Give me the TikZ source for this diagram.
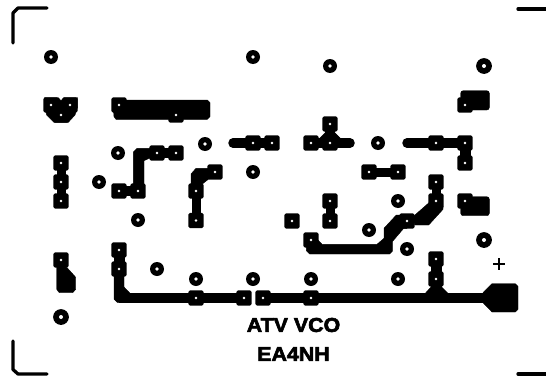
\documentclass[tikz,border=0pt]{standalone}
\usepackage{fontspec}
\setmainfont{Liberation Sans}[BoldFeatures={FakeBold=3,FakeStretch=1.07}]
\usetikzlibrary{backgrounds}
\tikzset{
  x=1pt,y=-1pt,
  spad/.style={rectangle,fill=black,inner sep=0pt,minimum size=15.2pt,rounded corners=1.6pt,
    path picture={\fill[white] (path picture bounding box.center) circle (1.4pt);}},
  rpad/.style={circle,fill=black,inner sep=0pt,minimum size=14pt,
    path picture={\fill[white] (path picture bounding box.center) circle (1.8pt);}},
  bigrpad/.style={circle,fill=black,inner sep=0pt,minimum size=15.8pt,
    path picture={\fill[white] (path picture bounding box.center) circle (2pt);}},
  trk/.style={draw=black,line width=#1,line join=miter},
  trk/.default=9pt,
  rtrk/.style={draw=black,line width=9.5pt,line cap=round},
  copper/.style={fill=black,draw=black,line width=0.4pt},
  frameline/.style={draw=black,line width=3.3pt,line cap=round,line join=round},
  caption/.style={font=\bfseries\fontsize{20}{20}\selectfont,inner sep=0pt,text=black}
}
\begin{document}
\begin{tikzpicture}
\useasboundingbox (0,0) rectangle (546,380);
% square pads
\foreach \n/\x/\y in {a1/61/163,a2/61/182,a3/61/201,a4/61/260,
  b1/51/105,b2/70/105,b3/61/115,c1/119/105,c2/176/115,
  d1/157/153,d2/176/153,d3/119/191,d4/138/191,
  e1/215/172,e2/196/191,e3/196/220.5,
  f1/253/143,f2/272/143,g1/311/143,g2/330/143,g3/330/124,
  h1/436/143,h2/465/143,h3/465/163,i1/369/172,i2/398/172,
  j1/436/182,j2/436/201,k1/465/105,k2/465/201,
  l1/330/201,l2/330/221,l3/292/221,l4/311/240,l5/407/221,
  m1/436/259,m2/436/279,m3/311/298,m4/119/250,m5/119/269,
  m6/196/298,m7/244/298,m8/263/298}
  {\node[spad] (\n) at (\x,\y) {};}
% round pads
\foreach \n/\x/\y in {r1/51/57,r2/253/57,r3/330/66,r4/205/144,r5/118/153,r6/99/182,
  r7/253/172,r8/378/143,r9/138/220,r10/398/201,r11/369/230,r12/407/249,
  r13/157/269,r14/196/279,r15/253/279,r16/311/279,r17/398/279}
  {\node[rpad] (\n) at (\x,\y) {};}
\foreach \n/\x/\y in {q1/484/66,q2/484/240,q3/61/317}
  {\node[bigrpad] (\n) at (\x,\y) {};}
% free ends of traces
\coordinate (ef) at (233,143);
\coordinate (eg) at (350,143);
\coordinate (eh) at (407,143);
\begin{scope}[on background layer]
  \fill[white] (0,0) rectangle (546,380);
  % straight links
  \draw[trk=9pt] (a1.center) -- (a3.center);
  \draw[trk=9pt] (l1.center) -- (l2.center);
  \draw[trk=9pt] (i1.center) -- (i2.center);
  \draw[trk=9pt] (j1.center) -- (j2.center);
  \draw[trk=9pt] (e2.center) -- (e3.center);
  \draw[trk=11pt] (m4.center) -- (m5.center);
  \draw[trk=11pt] (m1.center) -- (m3.center -| m1.center);
  \draw[trk=9.5pt] (d1.center) -- (d2.center);
  \draw[trk=9.5pt] (d3.center) -- (d4.center);
  \draw[trk=9.5pt] (f1.center) -- (f2.center);
  \draw[trk=9.5pt] (g1.center) -- (g2.center);
  \draw[trk=9.5pt] (g2.center) -- (g3.center);
  % rounded trace ends
  \draw[rtrk] (ef) -- (f1.center);
  \draw[rtrk] (g2.center) -- (eg);
  \draw[rtrk] (eh) -- (h2.center);
  \draw[trk=11pt] (h2.center) -- (h3.center);
  % bends
  \fill[copper] (133.3,185) -- (133.3,152) -- (137,148.3) -- (152,148.3) -- (152,157)
    -- (144,160.7) -- (144,185) -- cycle;
  \fill[copper] (191,190) -- (191,174) -- (196,168.3) -- (210,168.3) -- (210,178)
    -- (201,185) -- (200,190) -- cycle;
  % supply rail
  \draw[trk=9.5pt] (m7.center) -- (m5.center |- m7.center);
  \draw[trk=9.5pt] (m8.center) -- (486,298);
  \fill[copper] (114,276) -- (124,276) -- (124,287) -- (130,293.3) -- (130,302.3)
    -- (117.3,302.3) -- (114,299) -- cycle;
  \fill[copper] (483,292.7) -- (492,283.7) -- (515.3,283.7) -- (518,286.3) -- (518,309.3)
    -- (515.3,312) -- (492,312) -- (483,302.7) -- cycle;
  \fill[copper] (425.3,293.3) -- (431.3,286.7) -- (441.3,286.7) -- (448,293.3) -- cycle;
  % triangle at the top of the T junction
  \fill[copper] (330,128) -- (318,140) -- (342,140) -- cycle;
  % three-lobe pad group
  \fill[copper] (44.3,97.7) -- (58.3,97.7) -- (61,100.7) -- (63.7,97.7) -- (77.7,97.7)
    -- (77.7,106.7) -- (75,115) -- (68.3,122.3) -- (54,122.3) -- (46.7,115) -- (44.3,106.7) -- cycle;
  % large ground block
  \fill[copper] (113.3,108) -- (114,116.7) -- (116,119.3) -- (207.3,119.3) -- (210,116.7) -- (210,102.7)
    -- (207.3,100) -- (126,100) -- (119,100) -- cycle;
  % pad blobs
  \fill[copper,rounded corners=2.5pt] (460.7,90.7) rectangle (489.3,110);
  \fill[copper,rounded corners=2.5pt] (460.7,196.7) rectangle (489.3,215.7);
  \fill[copper] (56.7,266.7) -- (66.7,267.3) -- (75.7,277.3) -- (75.7,289.3) -- (72.7,292.7)
    -- (59.3,292.7) -- (56.7,289.3) -- cycle;
  % collector trace
  \fill[copper] (306.3,246.7) -- (306.3,250.7) -- (309.7,254) -- (389.7,254) -- (392.3,251.3)
    -- (392.3,241.7) -- (403.7,228.3) -- (407,228.3) -- (407,215) -- (396.3,215) -- (384,228.3)
    -- (384,238.3) -- (377,244.3) -- (322,244.3) -- (318,240) -- cycle;
  \fill[copper] (413,216.7) -- (429,202.7) -- (436,200) -- (443,206.7) -- (443,209.3)
    -- (428.7,225) -- (414.7,225) -- cycle;
\end{scope}
% corner marks
\coordinate (tl1) at (13,43); \coordinate (tl2) at (47,8);
\coordinate (bl1) at (13,341); \coordinate (bl2) at (47,374);
\coordinate (tr1) at (518,9); \coordinate (tr2) at (548,9);
\coordinate (br1) at (518,374); \coordinate (br2) at (548,374);
\draw[frameline] (tl1) -- (13,13) -- (18,8) -- (tl2);
\draw[frameline] (bl1) -- (13,369.5) -- (18,374) -- (bl2);
\draw[frameline] (tr1) -- (tr2);
\draw[frameline] (br1) -- (br2);
% plus sign
\draw[draw=black,line width=2.6pt] (493,264) -- (505,264);
\draw[draw=black,line width=2.6pt] (499,258) -- (499,270);
% captions
\node[caption] (t1) at (293.5,325) {ATV VCO};
\node[caption] (t2) at (293.5,354) {EA4NH};
\end{tikzpicture}
\end{document}
